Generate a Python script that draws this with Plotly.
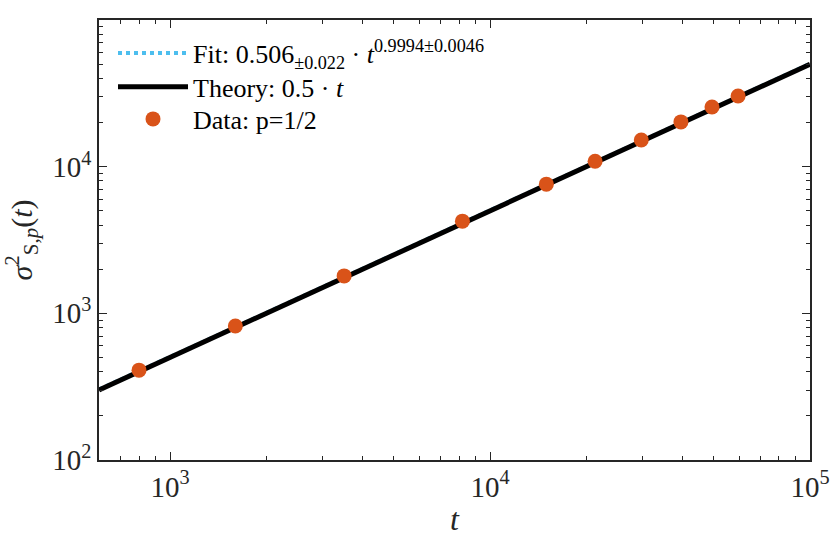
import plotly.graph_objects as go

# data
t_data = [800, 1600, 3500, 8200, 15000, 21300, 29700, 39500, 49400, 59600]
var_data = [410, 820, 1800, 4250, 7600, 10900, 15200, 20200, 25500, 30300]

# model lines (end points only, straight in log-log)
t_line = [600, 100000]
fit_line = [302.4, 50252]
theory_line = [300, 50000]

x_ticks = [1000, 10000, 100000]
x_labels = ["10<sup>3</sup>", "10<sup>4</sup>", "10<sup>5</sup>"]
y_ticks = [100, 1000, 10000, 100000]
y_labels = ["10<sup>2</sup>", "10<sup>3</sup>", "10<sup>4</sup>", "10<sup>5</sup>"]

x_minor = [m * 10 ** k for k in (2, 3, 4) for m in range(2, 10)]
y_minor = [m * 10 ** k for k in (2, 3, 4) for m in range(2, 10)]

FONT = "Liberation Serif"
INK = "#262626"

fig = go.Figure()
fig.add_trace(
    go.Scatter(
        x=t_line,
        y=fit_line,
        mode="lines",
        line=dict(color="#4DBEEE", width=4, dash="dot"),
        name="Fit: 0.506<sub>±0.022</sub> · <i>t</i><sup>0.9994±0.0046</sup>",
        legend="legend",
    )
)
fig.add_trace(
    go.Scatter(
        x=t_line,
        y=theory_line,
        mode="lines",
        line=dict(color="black", width=5),
        name="Theory: 0.5 · <i>t</i>",
        legend="legend2",
    )
)
fig.add_trace(
    go.Scatter(
        x=t_data,
        y=var_data,
        mode="markers",
        marker=dict(color="#D95319", size=15),
        name="Data: p=1/2",
        legend="legend3",
    )
)

axis_common = dict(
    type="log",
    showgrid=False,
    zeroline=False,
    showline=True,
    linecolor=INK,
    linewidth=1.5,
    mirror="ticks",
    ticks="inside",
    ticklen=8,
    tickcolor=INK,
    automargin=False,
    tickfont=dict(family=FONT, size=29, color=INK),
)

fig.update_xaxes(
    **axis_common,
    range=[2.778, 5],
    tickvals=x_ticks,
    ticktext=x_labels,
    minor=dict(tickvals=x_minor, ticks="inside", ticklen=4, tickcolor=INK),
    title=dict(text="<i>t</i>", font=dict(family=FONT, size=32, color=INK), standoff=6),
)
fig.update_yaxes(
    **axis_common,
    range=[2, 5],
    tickvals=y_ticks,
    ticktext=y_labels,
    minor=dict(tickvals=y_minor, ticks="inside", ticklen=4, tickcolor=INK),
    title=dict(
        text="<i>σ</i><sup>2</sup><sub>S,<i>p</i></sub>(<i>t</i>)",
        font=dict(family=FONT, size=30, color=INK),
        standoff=14,
    ),
)

legend_style = dict(
    x=0.0197,
    xanchor="left",
    yanchor="middle",
    bgcolor="rgba(255,255,255,0)",
    itemwidth=70,
    borderwidth=0,
    font=dict(family=FONT, size=26, color="black"),
)

fig.update_layout(
    width=830,
    height=539,
    margin=dict(l=99, r=20, t=20, b=79),
    plot_bgcolor="white",
    paper_bgcolor="white",
    font=dict(family=FONT, size=20, color="black"),
    legend=dict(y=0.925, **legend_style),
    legend2=dict(y=0.848, **legend_style),
    legend3=dict(y=0.775, **legend_style),
    showlegend=True,
)

fig.write_html(
    "out.html",
    config={"displayModeBar": False},
    post_script="document.body.style.margin = '0px';",
)
